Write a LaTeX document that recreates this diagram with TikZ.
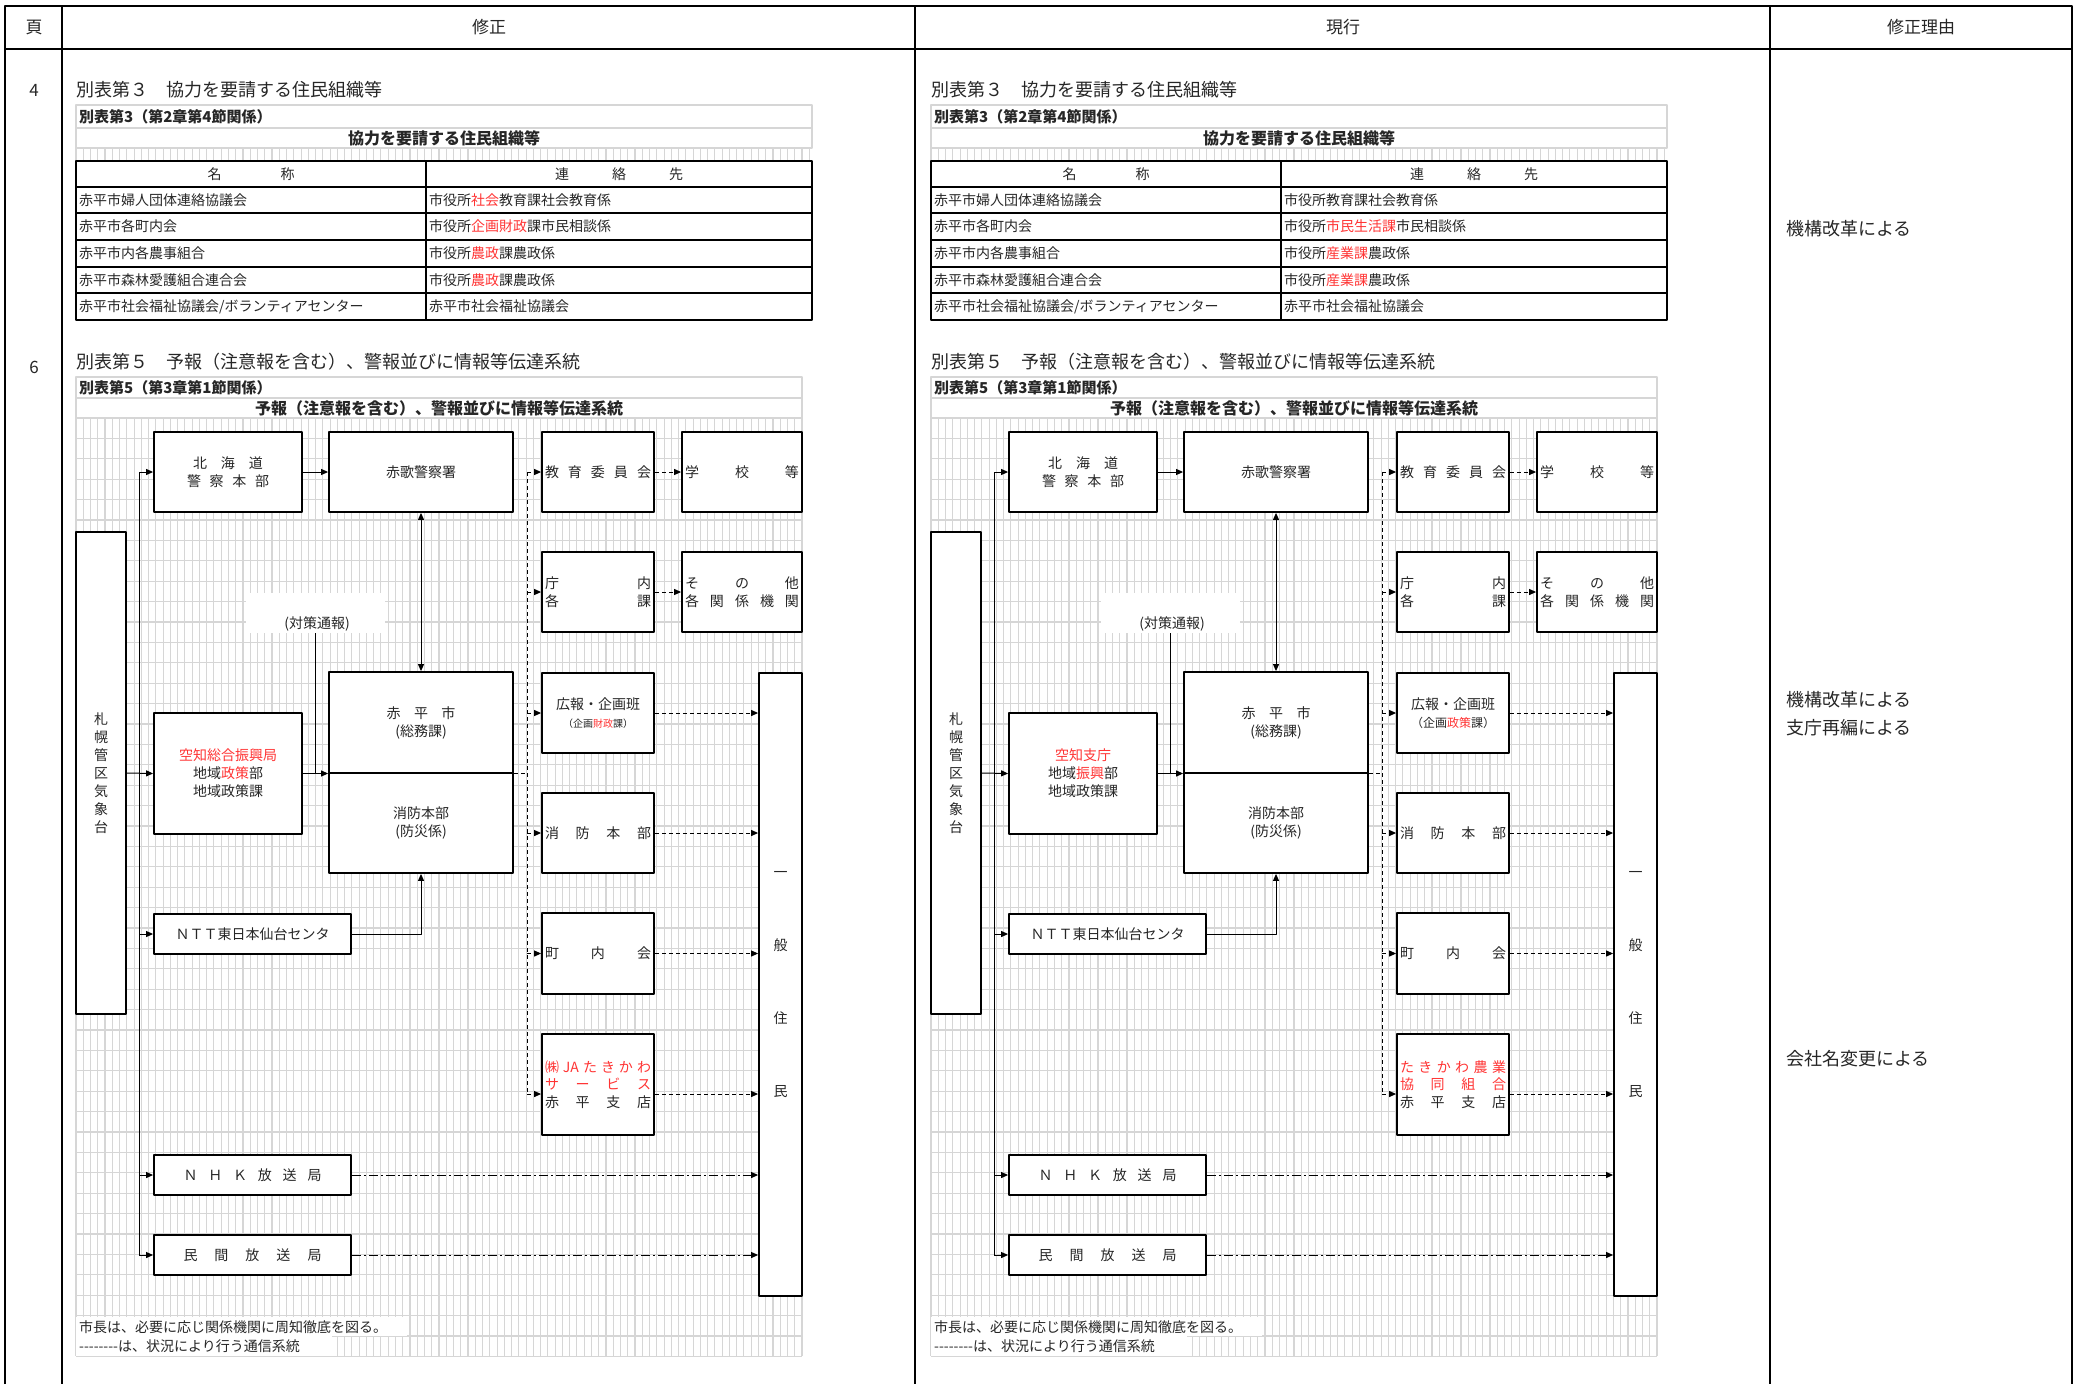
\documentclass[tikz,border=0pt]{standalone}
\usepackage{fontspec}
\setmainfont{Noto Sans CJK JP}
\usetikzlibrary{arrows.meta}

\definecolor{aka}{HTML}{FF3333}
\definecolor{sumi}{HTML}{262626}
\definecolor{hougan}{HTML}{D6D6D6}
\newcommand{\aka}[1]{\textcolor{aka}{#1}}
\newcommand{\fsize}[2]{\fontsize{#1}{#2}\selectfont}
\newcommand{\kinto}[2]{\makebox[#1pt][s]{#2}}

\tikzset{
  waku/.style={line width=2.5pt},
  hyousen/.style={line width=1.8pt},
  usuwaku/.style={draw=hougan, line width=1.5pt},
  hougansen/.style={draw=hougan, line width=1.1pt},
  kakomi/.style={draw, line width=1.8pt, fill=white, inner sep=0pt, text=sumi,
    font=\fsize{14}{18}, align=center},
  shiro/.style={fill=white, inner sep=0pt},
  moji/.style={text=sumi, inner sep=0pt, font=\fsize{14}{18}},
  midashi/.style={text=sumi, inner sep=0pt, font=\fsize{18}{20}},
  futoji/.style={text=sumi, inner sep=0pt, font=\bfseries\fsize{15}{17}},
  sen/.style={line width=1pt},
  yaji/.style={->, line width=1pt},
  hasen/.style={line width=1pt, dash pattern=on 4pt off 3pt},
  ichisen/.style={->, line width=1pt, dash pattern=on 9pt off 3pt on 2pt off 3pt},
}

% 別表第3の表（連絡先の4行を引数で）
\newcommand{\kyouryokuhyou}[4]{%
  \node[midashi, anchor=west] (hyoudai) at (76,90) {別表第３　協力を要請する住民組織等};
  \draw[usuwaku] (76,105) rectangle (812,128);
  \draw[usuwaku] (76,128) rectangle (812,148);
  \node[futoji, anchor=west] (kankei) at (79,117) {別表第3（第2章第4節関係）};
  \node[futoji, font=\bfseries\fsize{16}{18}] (hyoumei) at (444,138) {協力を要請する住民組織等};
  \foreach \i in {0,...,101} \draw[hougansen] (76+7.26*\i,148) -- (76+7.26*\i,160);
  % 表本体
  \draw[hyousen] (76,161) rectangle (812,320);
  \draw[hyousen] (426,161) -- (426,320);
  \foreach \gy in {187,213,240,267,293} \draw[hyousen] (76,\gy) -- (812,\gy);
  \node[moji] (meishou) at (251,174) {\kinto{87}{名\hfill 称}};
  \node[moji] (renrakusaki) at (619,174) {\kinto{128}{連\hfill 絡\hfill 先}};
  \node[moji, anchor=west] (dantai1) at (79,200) {赤平市婦人団体連絡協議会};
  \node[moji, anchor=west] (dantai2) at (79,226.5) {赤平市各町内会};
  \node[moji, anchor=west] (dantai3) at (79,253.5) {赤平市内各農事組合};
  \node[moji, anchor=west] (dantai4) at (79,280) {赤平市森林愛護組合連合会};
  \node[moji, anchor=west] (dantai5) at (79,306.5) {赤平市社会福祉協議会/ボランティアセンター};
  \node[moji, anchor=west] (saki1) at (429,200) {#1};
  \node[moji, anchor=west] (saki2) at (429,226.5) {#2};
  \node[moji, anchor=west] (saki3) at (429,253.5) {#3};
  \node[moji, anchor=west] (saki4) at (429,280) {#4};
  \node[moji, anchor=west] (saki5) at (429,306.5) {赤平市社会福祉協議会};
}

% 別表第5の伝達系統図（空知、広報、JAの各箱の中身を引数で）
\newcommand{\denpouzu}[3]{%
  \node[midashi, anchor=west] (zudai) at (76,362) {別表第５　予報（注意報を含む）、警報並びに情報等伝達系統};
  \draw[usuwaku] (76,377) rectangle (802,398);
  \draw[usuwaku] (76,398) rectangle (802,418);
  \node[futoji, anchor=west] (kankei5) at (79,388) {別表第5（第3章第1節関係）};
  \node[futoji, font=\bfseries\fsize{16}{18}] (zumei) at (439,408) {予報（注意報を含む）、警報並びに情報等伝達系統};
  % 方眼
  \foreach \i in {0,...,100} \draw[hougansen] (76+7.26*\i,418) -- (76+7.26*\i,1356);
  \foreach \j in {0,...,46} \draw[hougansen] (76,418+20.4*\j) -- (802,418+20.4*\j);
  \fill[white] (76,1317) rectangle (407,1336);
  \fill[white] (76,1336) rectangle (332,1356);
  \node[moji, anchor=west] (chuki1) at (79,1327) {市長は、必要に応じ関係機関に周知徹底を図る。};
  \node[moji, anchor=west] (chuki2) at (79,1346) {-{}-{}-{}-{}-{}-{}-{}-は、状況により行う通信系統};

  % 左の列
  \node[kakomi, minimum width=50pt, minimum height=482pt] (sapporo) at (101,773) {札\\幌\\管\\区\\気\\象\\台};
  \node[kakomi, minimum width=148pt, minimum height=80pt] (hokkaido) at (228,472)
    {\kinto{70}{北\hfill 海\hfill 道}\\\kinto{82}{警\hfill 察\hfill 本\hfill 部}};
  \node[kakomi, minimum width=184pt, minimum height=80pt] (keisatsu) at (421,472) {赤歌警察署};
  \node[shiro, minimum width=139pt, minimum height=40pt] (taisaku) at (315.5,613) {};
  \node[moji] (taisaku_moji) at (317,624) {(対策通報)};
  \node[kakomi, minimum width=148pt, minimum height=121pt] (sorachi) at (228,773.5) {#1};
  \node[kakomi, minimum width=184pt, minimum height=101pt] (akabira) at (421,722.5)
    {\kinto{69}{赤\hfill 平\hfill 市}\\(総務課)};
  \node[kakomi, minimum width=184pt, minimum height=100pt] (shoubou) at (421,823) {消防本部\\(防災係)};
  \node[kakomi, minimum width=197pt, minimum height=40pt] (ntt) at (252.5,934) {ＮＴＴ東日本仙台センタ};
  \node[kakomi, minimum width=197pt, minimum height=40pt] (nhk) at (252.5,1175)
    {\kinto{138}{Ｎ\hfill Ｈ\hfill Ｋ\hfill 放\hfill 送\hfill 局}};
  \node[kakomi, minimum width=197pt, minimum height=40pt] (minkan) at (252.5,1255)
    {\kinto{138}{民\hfill 間\hfill 放\hfill 送\hfill 局}};

  % 右の列
  \node[kakomi, minimum width=112pt, minimum height=80pt] (kyouiku) at (598,472)
    {\kinto{106}{教\hfill 育\hfill 委\hfill 員\hfill 会}};
  \node[kakomi, minimum width=120pt, minimum height=80pt] (gakkou) at (742,472)
    {\kinto{114}{学\hfill 校\hfill 等}};
  \node[kakomi, minimum width=112pt, minimum height=80pt] (chounai) at (598,592)
    {\kinto{106}{庁\hfill 内}\\\kinto{106}{各\hfill 課}};
  \node[kakomi, minimum width=120pt, minimum height=80pt] (sonota) at (742,592)
    {\kinto{114}{そ\hfill の\hfill 他}\\\kinto{114}{各\hfill 関\hfill 係\hfill 機\hfill 関}};
  \node[kakomi, minimum width=112pt, minimum height=80pt] (kouhou) at (598,713) {#2};
  \node[kakomi, minimum width=112pt, minimum height=80pt] (honbu) at (598,833)
    {\kinto{106}{消\hfill 防\hfill 本\hfill 部}};
  \node[kakomi, minimum width=112pt, minimum height=81pt] (choukai) at (598,953.5)
    {\kinto{106}{町\hfill 内\hfill 会}};
  \node[kakomi, minimum width=112pt, minimum height=101pt, font=\fsize{14}{17.5}] (ja) at (598,1084.5) {#3};
  \node[kakomi, minimum width=43pt, minimum height=623pt] (juumin) at (780.5,984.5)
    {一\\[55pt]般\\[55pt]住\\[55pt]民};

  % 実線の伝達
  \coordinate (kansen_ue) at (139,472);
  \coordinate (kansen_shita) at (139,1255);
  \draw[sen] (kansen_ue) -- (kansen_shita);
  \draw[yaji] (kansen_ue) -- (hokkaido.west);
  \draw[yaji] (hokkaido.east) -- (keisatsu.west);
  \draw[yaji] (sapporo.east) -- (sorachi.west);
  \draw[yaji] (sorachi.east) -- (sorachi.east -| akabira.west);
  \draw[sen] (taisaku.south) -- (taisaku.south |- sorachi.east);
  \draw[<->, sen] (keisatsu.south) -- (akabira.north);
  \draw[yaji] (ntt.east) -| (shoubou.south);
  \draw[yaji] (kansen_ue |- ntt.west) -- (ntt.west);
  \draw[yaji] (kansen_ue |- nhk.west) -- (nhk.west);
  \draw[yaji] (kansen_ue |- minkan.west) -- (minkan.west);

  % 破線の伝達
  \coordinate (bus_ue) at (527,472);
  \coordinate (bus_shita) at (527,1094);
  \draw[hasen] (bus_ue) -- (bus_shita);
  \draw[hasen] (akabira.south east) -- (akabira.south east -| bus_ue);
  \draw[hasen, ->] (bus_ue) -- (kyouiku.west);
  \draw[hasen, ->] (kyouiku.east) -- (gakkou.west);
  \draw[hasen, ->] (bus_ue |- chounai.west) -- (chounai.west);
  \draw[hasen, ->] (chounai.east) -- (sonota.west);
  \draw[hasen, ->] (bus_ue |- kouhou.west) -- (kouhou.west);
  \draw[hasen, ->] (kouhou.east) -- (kouhou.east -| juumin.west);
  \draw[hasen, ->] (bus_ue |- honbu.west) -- (honbu.west);
  \draw[hasen, ->] (honbu.east) -- (honbu.east -| juumin.west);
  \draw[hasen, ->] (bus_ue |- choukai.west) -- (choukai.west);
  \draw[hasen, ->] (choukai.east) -- (choukai.east -| juumin.west);
  \draw[hasen, ->] (bus_shita) -- (bus_shita -| ja.west);
  \draw[hasen, ->] (bus_shita -| ja.east) -- (bus_shita -| juumin.west);
  \draw[ichisen] (nhk.east) -- (nhk.east -| juumin.west);
  \draw[ichisen] (minkan.east) -- (minkan.east -| juumin.west);
}

\begin{document}
\begin{tikzpicture}[x=1pt, y=-1pt, line join=round, >={Triangle[length=7pt,width=6pt]}]
  \useasboundingbox (0,0) rectangle (2074,1384);

  % 1. 外枠と見出し行
  \draw[waku] (5,1384) -- (5,6) -- (2072,6) -- (2072,1384);
  \draw[waku] (5,49) -- (2072,49);
  \foreach \gx in {62,915,1770} \draw[waku] (\gx,6) -- (\gx,1384);
  \node[midashi, font=\fsize{17}{20}] (h_peji) at (34,27) {頁};
  \node[midashi, font=\fsize{17}{20}] (h_shusei) at (489,27) {修正};
  \node[midashi, font=\fsize{17}{20}] (h_genkou) at (1343,27) {現行};
  \node[midashi, font=\fsize{17}{20}] (h_riyuu) at (1921,27) {修正理由};
  \node[midashi, font=\fsize{17}{20}] (peji4) at (34,90) {4};
  \node[midashi, font=\fsize{17}{20}] (peji6) at (34,367) {6};

  % 2. 修正
  \begin{scope}[name prefix=shusei-]
    \kyouryokuhyou{市役所\aka{社会}教育課社会教育係}{市役所\aka{企画財政}課市民相談係}
      {市役所\aka{農政}課農政係}{市役所\aka{農政}課農政係}
    \denpouzu{\aka{空知総合振興局}\\地域\aka{政策}部\\地域政策課}
      {広報・企画班\\{\fsize{10}{14}（企画\aka{財政}課）}}
      {\aka{\kinto{106}{㈱\hfill JA\hfill た\hfill き\hfill か\hfill わ}}\\
       \aka{\kinto{106}{サ\hfill ー\hfill ビ\hfill ス}}\\
       \kinto{106}{赤\hfill 平\hfill 支\hfill 店}}
  \end{scope}

  % 3. 現行
  \begin{scope}[xshift=855pt, name prefix=genkou-]
    \kyouryokuhyou{市役所教育課社会教育係}{市役所\aka{市民生活課}市民相談係}
      {市役所\aka{産業課}農政係}{市役所\aka{産業課}農政係}
    \denpouzu{\aka{空知支庁}\\地域\aka{振興}部\\地域政策課}
      {広報・企画班\\{\fsize{12}{15}（企画\aka{政策}課）}}
      {\aka{\kinto{106}{た\hfill き\hfill か\hfill わ\hfill 農\hfill 業}}\\
       \aka{\kinto{106}{協\hfill 同\hfill 組\hfill 合}}\\
       \kinto{106}{赤\hfill 平\hfill 支\hfill 店}}
  \end{scope}

  % 4. 修正理由
  \node[midashi, anchor=west] (riyuu1) at (1786,229) {機構改革による};
  \node[midashi, anchor=west, align=left, font=\fsize{18}{28}] (riyuu2) at (1786,714) {機構改革による\\支庁再編による};
  \node[midashi, anchor=west] (riyuu3) at (1786,1059) {会社名変更による};
\end{tikzpicture}
\end{document}
